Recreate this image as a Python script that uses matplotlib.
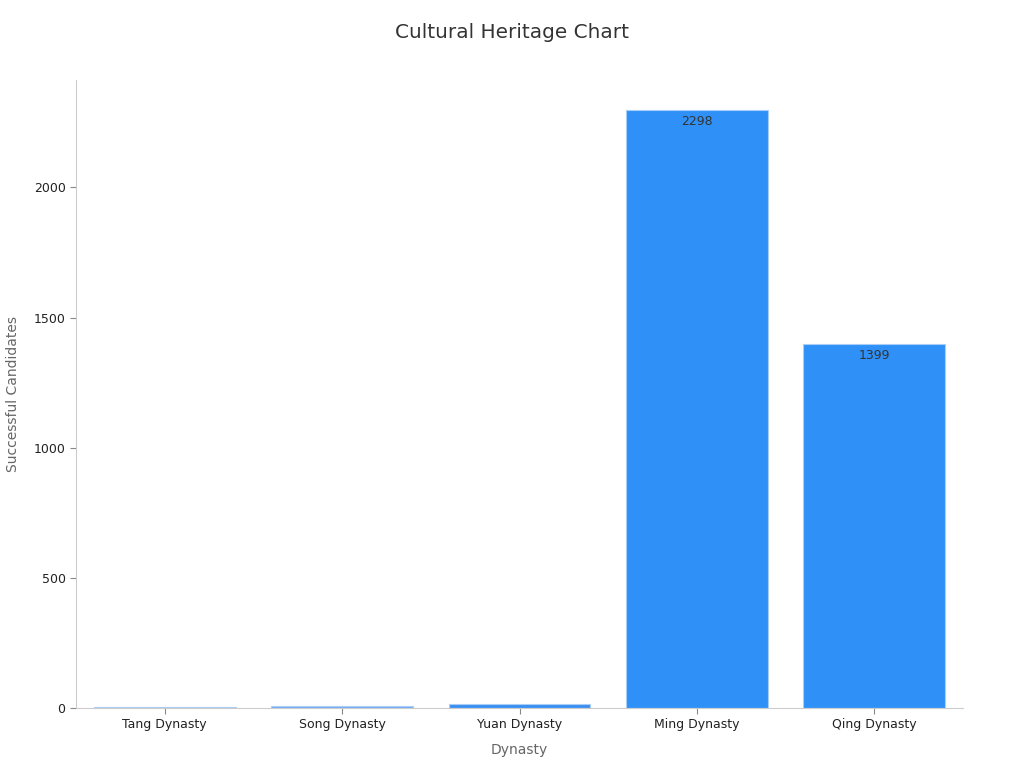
import matplotlib
matplotlib.use("Agg")
import matplotlib.pyplot as plt

categories = ["Tang Dynasty", "Song Dynasty", "Yuan Dynasty", "Ming Dynasty", "Qing Dynasty"]
values = [3, 8, 15, 2298, 1399]
bar_colors = ["#dfe3ef", "#6eaaf6", "#3a90f2", "#2f91f8", "#2f91f8"]
show_labels = [False, False, False, True, True]

fig = plt.figure(figsize=(10.24, 7.68), dpi=100)
ax = fig.add_axes([76/1024, 1 - 708/768, (963-76)/1024, (708-80)/768])

x = range(len(categories))
bars = ax.bar(x, values, width=0.8, color=bar_colors, edgecolor="#a9cdf7", linewidth=0.8, zorder=2)
for b, v, s in zip(bars, values, show_labels):
    if s:
        ax.text(b.get_x() + b.get_width()/2, v - 20, str(v), ha="center", va="top",
                fontsize=9, color="#333333", zorder=3)

ax.set_xlim(-0.5, 4.5)
ax.set_ylim(0, 2413)
ax.set_xticks(list(x))
ax.set_xticklabels(categories, fontsize=9, color="#222222")
ax.set_yticks([0, 500, 1000, 1500, 2000])
ax.tick_params(axis="y", labelsize=9, labelcolor="#222222", color="#888888", length=4)
ax.tick_params(axis="x", color="#888888", length=4)
for s in ["top", "right"]:
    ax.spines[s].set_visible(False)
for s in ["left", "bottom"]:
    ax.spines[s].set_color("#cccccc")
    ax.spines[s].set_linewidth(0.8)

ax.set_xlabel("Dynasty", fontsize=10, color="#666666", labelpad=8)
ax.set_ylabel("Successful Candidates", fontsize=10, color="#666666", va="center")
ax.yaxis.set_label_coords((13 - 76) / 887, 0.5)
fig.text(0.5, 1 - 33/768, "Cultural Heritage Chart", ha="center", va="center", fontsize=14.4, color="#333333")

fig.savefig("out.png", dpi=100)
